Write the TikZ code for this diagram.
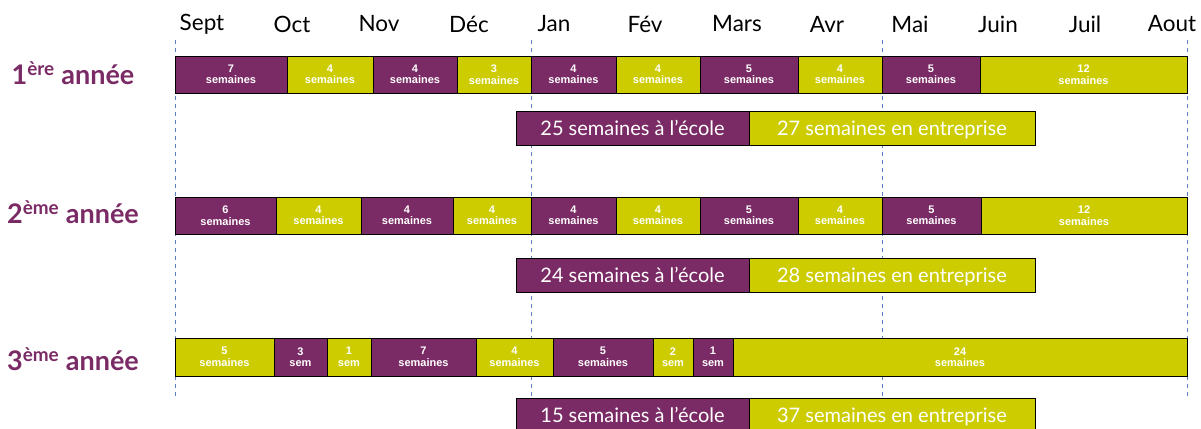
\documentclass[tikz,border=0pt]{standalone}
\usepackage{fontspec}
\setmainfont{Lato}
\newfontfamily\segfont{Liberation Sans}
\definecolor{purp}{HTML}{7A2A64}
\definecolor{yel}{HTML}{CCCC00}
\definecolor{dashblue}{HTML}{5B7FC8}
\begin{document}
\begin{tikzpicture}[x=1pt,y=-1pt,
  seg/.style={draw=black, line width=0.9pt, inner sep=0pt, text=white, align=center,
    font=\segfont\bfseries\fontsize{11}{12.5}\selectfont},
  P/.style={seg, fill=purp},
  Y/.style={seg, fill=yel},
  sumbox/.style={draw=black, line width=0.9pt, inner sep=0pt, text=white,
    font=\fontsize{20}{22}\selectfont, minimum height=34pt, text depth=0pt, text height=14pt},
  month/.style={font=\fontsize{22.5}{24}\selectfont, text=black, inner sep=0pt},
  rowlab/.style={font=\bfseries\fontsize{27}{29}\selectfont, text=purp, inner sep=0pt},
  vguide/.style={dashblue, dashed, line width=0.8pt, dash pattern=on 4pt off 4pt}
]
\useasboundingbox (0,0) rectangle (1201,428);
% guides
\foreach \x [count=\i] in {175,531,882,1187} {
  \coordinate (gt\i) at (\x,40);
  \coordinate (gb\i) at (\x,396);
  \draw[vguide] (gt\i) -- (gb\i);
}
% months
\foreach \m/\x [count=\i] in {Sept/202,Oct/292,Nov/379,Déc/469,Jan/554,Fév/645,Mars/737,Avr/827,Mai/910,Juin/998,Juil/1085,Aout/1172}
  \node[month] (m\i) at (\x,24) {\m};
% row labels
\node[rowlab] (lab1) at (73,73) {1\textsuperscript{ère} année};
\node[rowlab] (lab2) at (73,212) {2\textsuperscript{ème} année};
\node[rowlab] (lab3) at (73,359) {3\textsuperscript{ème} année};
% row 1
\foreach \a/\b/\c/\n/\t [count=\i] in {175/287/P/7/semaines,287/373/Y/4/semaines,373/457/P/4/semaines,457/531/Y/3/semaines,531/616/P/4/semaines,616/700/Y/4/semaines,700/798/P/5/semaines,798/882/Y/4/semaines,882/980/P/5/semaines,980/1187/Y/12/semaines}
  \node[\c, minimum width={(\b-\a)*1pt}, minimum height=37pt] (ra\i) at ({(\a+\b)/2},74.5) {\n\\[-1pt]\t};
% row 2
\foreach \a/\b/\c/\n/\t [count=\i] in {175/276/P/6/semaines,276/361/Y/4/semaines,361/453/P/4/semaines,453/531/Y/4/semaines,531/616/P/4/semaines,616/700/Y/4/semaines,700/798/P/5/semaines,798/882/Y/4/semaines,882/981/P/5/semaines,981/1187/Y/12/semaines}
  \node[\c, minimum width={(\b-\a)*1pt}, minimum height=37pt] (rb\i) at ({(\a+\b)/2},215.5) {\n\\[-1pt]\t};
% row 3
\foreach \a/\b/\c/\n/\t [count=\i] in {175/274/Y/5/semaines,274/327/P/3/sem,327/371/Y/1/sem,371/476/P/7/semaines,476/553/Y/4/semaines,553/653/P/5/semaines,653/693/Y/2/sem,693/733/P/1/sem,733/1187/Y/24/semaines}
  \node[\c, minimum width={(\b-\a)*1pt}, minimum height=38pt] (rc\i) at ({(\a+\b)/2},357) {\n\\[-1pt]\t};
% summaries
\node[sumbox, fill=purp, minimum width=233pt] (s1a) at (632.5,128) {25 semaines à l'école};
\node[sumbox, fill=yel, minimum width=286pt] (s1b) at (892,128) {27 semaines en entreprise};
\node[sumbox, fill=purp, minimum width=233pt] (s2a) at (632.5,275) {24 semaines à l'école};
\node[sumbox, fill=yel, minimum width=286pt] (s2b) at (892,275) {28 semaines en entreprise};
\node[sumbox, fill=purp, minimum width=233pt] (s3a) at (632.5,415) {15 semaines à l'école};
\node[sumbox, fill=yel, minimum width=286pt] (s3b) at (892,415) {37 semaines en entreprise};
\end{tikzpicture}
\end{document}
